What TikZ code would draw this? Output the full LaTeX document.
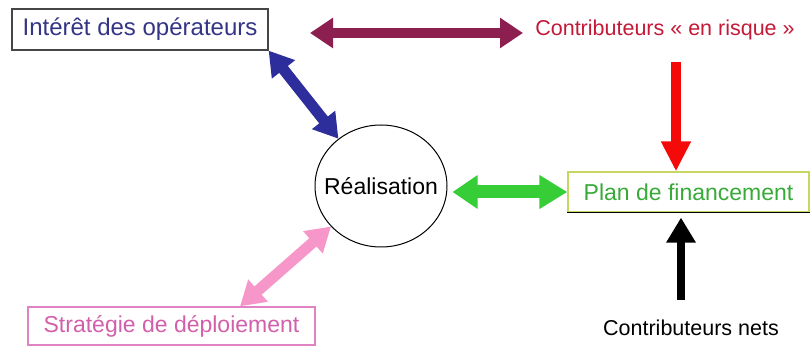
\documentclass[tikz,border=0pt]{standalone}
\usepackage{fontspec}
\setmainfont{Liberation Sans}
\usetikzlibrary{arrows.meta,shapes.geometric,calc}
\definecolor{bluetxt}{RGB}{52,52,135}
\definecolor{bluearrow}{RGB}{45,45,155}
\definecolor{maroonarrow}{RGB}{140,30,80}
\definecolor{risktxt}{RGB}{195,25,55}
\definecolor{redarrow}{RGB}{245,10,10}
\definecolor{greenarrow}{RGB}{55,205,55}
\definecolor{greentxt}{RGB}{55,170,55}
\definecolor{planborder}{RGB}{200,215,100}
\definecolor{pinkarrow}{RGB}{247,150,200}
\definecolor{pinktxt}{RGB}{210,95,170}
\definecolor{pinkborder}{RGB}{225,130,195}
\begin{document}
\begin{tikzpicture}[x=1pt,y=-1pt,
  lbl/.style={font=\fontsize{23}{26}\selectfont, inner sep=0pt},
  boxed/.style={lbl, rectangle, line width=1.2pt},
  fatarrow/.style={line width=#1},
  dbl/.style={{Triangle[width=28pt,length=24pt]}-{Triangle[width=28pt,length=24pt]}},
  sgl/.style={-{Triangle[width=28pt,length=#1]}}
]
\useasboundingbox (0,0) rectangle (811,347);

% nodes
\node[boxed, draw=gray!55!black, text=bluetxt, minimum width=256pt, minimum height=41pt,
      font=\fontsize{24}{26}\selectfont] (int) at (140,29.5) {Intérêt des opérateurs};
\node[lbl, text=risktxt, font=\fontsize{21.5}{24}\selectfont] (risk) at (665,30) {Contributeurs « en risque »};
\node[lbl, draw, ellipse, line width=1pt, inner xsep=-11pt, inner ysep=0pt, minimum width=132pt, minimum height=122pt] (real) at (381,186) {Réalisation};
\node[boxed, draw=planborder, text=greentxt, minimum width=241pt, minimum height=40pt] (plan) at (688.5,192) {Plan de financement};
\draw[black, line width=1.2pt] (plan.south west) -- (plan.south east);
\node[boxed, draw=pinkborder, text=pinktxt, minimum width=287pt, minimum height=38pt] (strat) at (171.5,326) {Stratégie de déploiement};
\node[lbl, text=black, font=\fontsize{21.5}{24}\selectfont] (nets) at (691,328) {Contributeurs nets};

% free ends
\coordinate (mL) at (310,33);
\coordinate (mR) at (523,33);
\coordinate (redtop) at (676,62);
\coordinate (blackbot) at (681,300);
\coordinate (pk) at (240,0);

% connectors
\draw[maroonarrow, fatarrow=10pt, {Triangle[width=29pt,length=23pt]}-{Triangle[width=29pt,length=23pt]}] (mL) -- (mR);
\draw[bluearrow, fatarrow=11pt, dbl] (int.south east) -- (real.132);
\draw[pinkarrow, fatarrow=11pt, dbl] (real.219) -- (strat.north -| pk);
\draw[greenarrow, fatarrow=13pt, {Triangle[width=32pt,length=25pt]}-{Triangle[width=32pt,length=28pt]}, shorten <=5pt] (real.east |- plan.west) -- (plan.west);
\draw[redarrow, fatarrow=10pt, sgl=30pt] (redtop) -- (redtop |- plan.north);
\draw[black, fatarrow=8pt, sgl=25pt, shorten >=5pt] (blackbot) -- (blackbot |- plan.south);
\end{tikzpicture}
\end{document}
